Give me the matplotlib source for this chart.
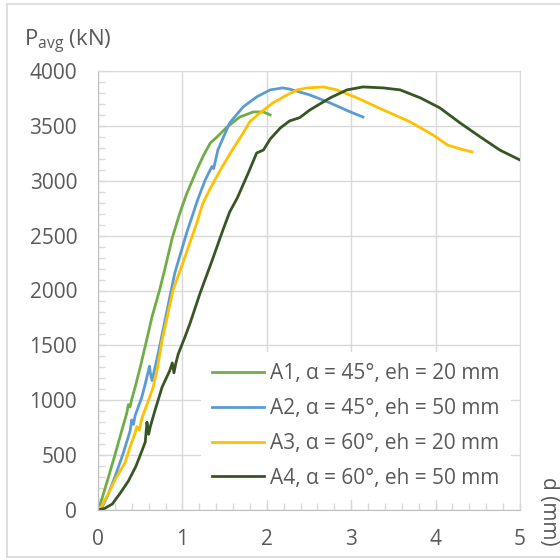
import matplotlib
matplotlib.use("Agg")
import matplotlib.pyplot as plt
from matplotlib.ticker import MultipleLocator
from matplotlib.lines import Line2D

plt.rcParams['font.family'] = ['Open Sans', 'DejaVu Sans']
plt.rcParams['mathtext.fontset'] = 'custom'
plt.rcParams['mathtext.rm'] = 'Open Sans'
plt.rcParams['mathtext.it'] = 'Open Sans'

labels = ["A1, α = 45°, eh = 20 mm", "A2, α = 45°, eh = 50 mm",
          "A3, α = 60°, eh = 20 mm", "A4, α = 60°, eh = 50 mm"]
colors = ["#70AD47", "#5B9BD5", "#FFC000", "#375623"]

a1_d = [0, 0.05, 0.12, 0.20, 0.28, 0.34, 0.36, 0.38, 0.40, 0.44, 0.50, 0.58, 0.64, 0.73,
        0.80, 0.88, 0.97, 1.05, 1.17, 1.25, 1.33, 1.41, 1.53, 1.68, 1.84, 1.96, 2.04]
a1_p = [0, 110, 290, 500, 720, 880, 960, 940, 1010, 1120, 1300, 1560, 1760, 2005,
        2220, 2480, 2706, 2880, 3098, 3230, 3344, 3399, 3490, 3581, 3627, 3627, 3600]

a2_d = [0, 0.05, 0.12, 0.20, 0.30, 0.38, 0.40, 0.42, 0.44, 0.52, 0.57, 0.61, 0.62, 0.64,
        0.70, 0.76, 0.84, 0.91, 1.05, 1.18, 1.27, 1.35, 1.37, 1.42, 1.56, 1.72, 1.88, 2.04,
        2.19, 2.27, 2.51, 2.75, 2.99, 3.14]
a2_p = [0, 30, 140, 300, 520, 720, 820, 780, 860, 1030, 1180, 1310, 1250, 1180,
        1380, 1600, 1900, 2160, 2524, 2825, 3007, 3130, 3110, 3280, 3527, 3673, 3764, 3828,
        3846, 3835, 3782, 3709, 3627, 3581]

a3_d = [0, 0.05, 0.12, 0.22, 0.32, 0.38, 0.44, 0.46, 0.49, 0.52, 0.55, 0.58, 0.65, 0.70,
        0.76, 0.89, 1.03, 1.17, 1.24, 1.33, 1.45, 1.59, 1.72, 1.80, 1.92, 2.07, 2.24, 2.36,
        2.48, 2.67, 2.83, 3.07, 3.38, 3.70, 3.97, 4.14, 4.29, 4.43]
a3_p = [0, 40, 146, 300, 430, 575, 702, 760, 730, 838, 900, 960, 1110, 1276,
        1549, 2005, 2305, 2615, 2790, 2930, 3098, 3280, 3435, 3540, 3618, 3709, 3782, 3828,
        3846, 3855, 3828, 3755, 3645, 3536, 3417, 3326, 3290, 3263]

a4_d = [0, 0.08, 0.17, 0.26, 0.36, 0.45, 0.52, 0.56, 0.58, 0.60, 0.62, 0.68, 0.76, 0.85,
        0.88, 0.90, 0.92, 0.95, 1.03, 1.09, 1.21, 1.35, 1.48, 1.56, 1.65, 1.78, 1.88, 1.96,
        2.04, 2.16, 2.27, 2.39, 2.51, 2.75, 2.95, 3.14, 3.38, 3.58, 3.82, 4.05, 4.29, 4.53,
        4.76, 5.0]
a4_p = [0, 15, 55, 150, 264, 400, 538, 620, 800, 690, 760, 920, 1121, 1270,
        1340, 1250, 1330, 1420, 1576, 1700, 1977, 2269, 2551, 2715, 2843, 3070, 3253, 3280,
        3380, 3481, 3545, 3575, 3645, 3755, 3828, 3855, 3846, 3828, 3755, 3664, 3527, 3399,
        3280, 3189]

series = [(a1_d, a1_p), (a2_d, a2_p), (a3_d, a3_p), (a4_d, a4_p)]

W = H = 560
fig = plt.figure(figsize=(5.6, 5.6), dpi=100)
ax = fig.add_axes([98 / W, 1 - 510 / H, (520 - 98) / W, (510 - 71) / H])

for (d, p), c, lab in zip(series, colors, labels):
    ax.plot(d, p, color=c, lw=2.0, label=lab, solid_joinstyle='round')

ax.set_xlim(0, 5)
ax.set_ylim(0, 4000)
ax.xaxis.set_major_locator(MultipleLocator(1))
ax.yaxis.set_major_locator(MultipleLocator(500))
ax.xaxis.set_minor_locator(MultipleLocator(0.2))
ax.yaxis.set_minor_locator(MultipleLocator(100))
ax.grid(True, which='major', color='#D9D9D9', lw=1.0)
ax.set_axisbelow(True)
ax.tick_params(which='both', direction='in', color='#D9D9D9', length=5, width=1,
               labelsize=15, labelcolor='#595959')
ax.tick_params(axis='y', which='both', pad=15)
ax.tick_params(axis='x', which='both', pad=14)
for s in ['top', 'right']:
    ax.spines[s].set_color('#D9D9D9')
for s in ['left', 'bottom']:
    ax.spines[s].set_color('#BFBFBF')

leg = ax.legend(loc='upper left', bbox_to_anchor=(201 / W, 1 - 352 / H),
                bbox_transform=fig.transFigure, fontsize=15, frameon=True,
                facecolor='white', edgecolor='none', framealpha=1, fancybox=False,
                handlelength=2.45, handletextpad=0.3, labelspacing=0.66,
                borderpad=0.55, borderaxespad=0)
for t in leg.get_texts():
    t.set_color('#595959')

fig.text(24 / W, 1 - 46 / H, r'P$_{\mathrm{avg}}$ (kN)', fontsize=16, color='#595959',
         ha='left', va='baseline')
fig.text(548 / W, 1 - 477 / H, 'd (mm)', fontsize=15, color='#595959', rotation=270,
         ha='center', va='top')

border = '#D9D9D9'
fig.add_artist(Line2D([7 / W, 1.0], [1 - 4 / H, 1 - 4 / H], color=border, lw=1.2,
                      transform=fig.transFigure))
fig.add_artist(Line2D([7 / W, 7 / W], [1 - 4 / H, 1 - 557 / H], color=border, lw=1.2,
                      transform=fig.transFigure))
fig.add_artist(Line2D([7 / W, 1.0], [1 - 557 / H, 1 - 557 / H], color=border, lw=1.2,
                      transform=fig.transFigure))

fig.savefig('out.png', dpi=100, facecolor='white')
